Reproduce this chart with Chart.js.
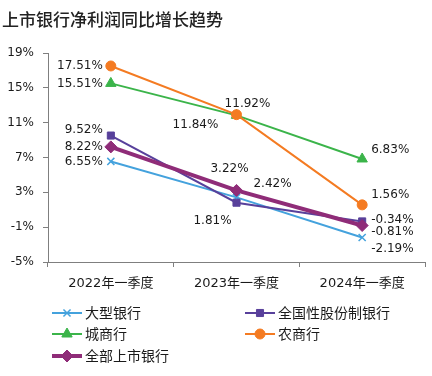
<!DOCTYPE html>
<html>
<head>
<meta charset="utf-8">
<script src="https://cdn.jsdelivr.net/npm/chart.js@4.4.1/dist/chart.umd.min.js"></script>
<style>
  html, body { margin: 0; padding: 0; background: #fff; }
  #wrap { width: 432px; height: 376px; position: relative; }
</style>
</head>
<body>
<div id="wrap"><canvas id="chart"></canvas></div>
<script>
// chart values
const quarters = ["2022年一季度", "2023年一季度", "2024年一季度"];
const bigBanks = [6.55, 2.42, -2.19];
const jointStock = [9.52, 1.81, -0.34];
const cityBanks = [15.51, 11.84, 6.83];
const ruralBanks = [17.51, 11.92, 1.56];
const allListed = [8.22, 3.22, -0.81];
const seriesNames = ["大型银行", "全国性股份制银行", "城商行", "农商行", "全部上市银行"];
const titleText = "上市银行净利润同比增长趋势";

// label placement per series per point: [dx, dy, align]
const labelPos = [
  [[-8, 0, "right"], [36, -14, "center"], [9, 11, "left"]],
  [[-8, -6, "right"], [-24, 18, "center"], [9, -2, "left"]],
  [[-8, 0, "right"], [-41, 10, "center"], [9, -9, "left"]],
  [[-8, 0, "right"], [11, -11, "center"], [9, -10, "left"]],
  [[-8, 0, "right"], [-7, -22, "center"], [9, 6, "left"]]
];

const labelsPlugin = {
  id: "pointLabels",
  afterDatasetsDraw(chart) {
    const ctx = chart.ctx;
    ctx.save();
    ctx.font = "12px 'DejaVu Sans'";
    ctx.fillStyle = "#1a1a1a";
    ctx.textBaseline = "middle";
    chart.data.datasets.forEach((ds, i) => {
      const meta = chart.getDatasetMeta(i);
      meta.data.forEach((pt, j) => {
        const p = labelPos[i][j];
        ctx.textAlign = p[2];
        ctx.fillText(ds.data[j].toFixed(2) + "%", pt.x + p[0], pt.y + p[1]);
      });
    });
    ctx.restore();
  }
};

const decorPlugin = {
  id: "decor",
  afterDraw(chart) {
    const ctx = chart.ctx;
    ctx.save();
    // title
    ctx.font = "500 17px 'Noto Sans CJK SC'";
    ctx.fillStyle = "#222";
    ctx.textAlign = "left";
    ctx.textBaseline = "middle";
    ctx.fillText(titleText, 2, 20);
    // legend, two columns
    const slots = [[52, 313], [245, 313], [52, 334], [245, 334], [52, 356]];
    ctx.font = "14px 'Noto Sans CJK SC'";
    chart.data.datasets.forEach((ds, i) => {
      const x = slots[i][0], y = slots[i][1];
      ctx.strokeStyle = ds.borderColor;
      ctx.lineWidth = ds.borderWidth;
      ctx.beginPath();
      ctx.moveTo(x, y);
      ctx.lineTo(x + 30, y);
      ctx.stroke();
      ctx.fillStyle = ds.pointBackgroundColor;
      ctx.strokeStyle = ds.pointBorderColor;
      ctx.lineWidth = ds.pointBorderWidth;
      Chart.helpers.drawPoint(ctx, {
        pointStyle: ds.pointStyle,
        radius: ds.pointRadius,
        rotation: 0,
        borderWidth: ds.pointBorderWidth
      }, x + 15, y);
      ctx.fillStyle = "#1a1a1a";
      ctx.fillText(ds.label, x + 33, y);
    });
    ctx.restore();
  }
};

function series(label, data, color, style, radius, width, order) {
  return {
    label: label,
    data: data,
    borderColor: color,
    backgroundColor: color,
    pointBackgroundColor: color,
    pointBorderColor: color,
    pointBorderWidth: style === "crossRot" ? 1.5 : 1,
    borderWidth: width,
    pointStyle: style,
    pointRadius: radius,
    tension: 0,
    order: order
  };
}

const ctx = document.getElementById("chart").getContext("2d");
new Chart(ctx, {
  type: "line",
  data: {
    labels: quarters,
    datasets: [
      series(seriesNames[0], bigBanks, "#44a2dd", "crossRot", 5, 2, 4),
      series(seriesNames[1], jointStock, "#58409b", "rect", 5, 2, 3),
      series(seriesNames[2], cityBanks, "#3bb44a", "triangle", 6, 2, 2),
      series(seriesNames[3], ruralBanks, "#f47b22", "circle", 5, 2, 1),
      series(seriesNames[4], allListed, "#8f2c78", "rectRot", 6, 4, 0)
    ]
  },
  options: {
    responsive: true,
    maintainAspectRatio: false,
    animation: false,
    layout: { padding: { left: 0, right: 4, top: 53, bottom: 0 } },
    plugins: {
      legend: { display: false },
      tooltip: { enabled: false }
    },
    scales: {
      x: {
        offset: true,
        grid: { drawOnChartArea: false, offset: true, tickLength: 5, color: "#7f7f7f" },
        border: { color: "#7f7f7f" },
        ticks: { color: "#1a1a1a", font: { family: "'DejaVu Sans', 'Noto Sans CJK SC'", size: 13 }, padding: 9, maxRotation: 0 },
        afterFit: (s) => { s.height = 114; }
      },
      y: {
        min: -5,
        max: 19,
        grid: { drawOnChartArea: false, tickLength: 5, color: "#7f7f7f" },
        border: { color: "#7f7f7f" },
        ticks: {
          stepSize: 4,
          padding: 9,
          color: "#1a1a1a",
          font: { family: "'DejaVu Sans'", size: 12 },
          callback: (v) => v + "%"
        },
        afterFit: (s) => { s.width = 48; }
      }
    }
  },
  plugins: [labelsPlugin, decorPlugin]
});
</script>
</body>
</html>
